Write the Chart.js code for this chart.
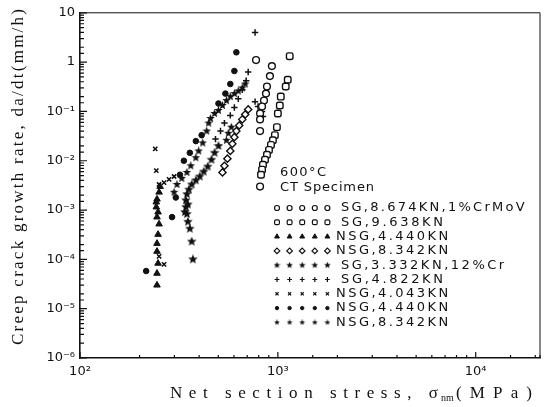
<!DOCTYPE html>
<html>
<head>
<meta charset="utf-8">
<script src="https://cdn.jsdelivr.net/npm/chart.js@4.4.0/dist/chart.umd.min.js"></script>
<style>
  html, body { margin: 0; padding: 0; background: #fff; }
  canvas { display: block; }
</style>
</head>
<body>
<canvas id="CrackChart" width="546" height="407"></canvas>
<script>
// points are [net section stress (MPa), da/dt (mm/h)]
const sg8674CrMoV = [
  [776, 1.10], [933, 0.83], [912, 0.52], [881, 0.32], [871, 0.23], [851, 0.166],
  [832, 0.126], [813, 0.091], [813, 0.069], [813, 0.040], [813, 0.0030],
];
const sg9638CrMoV = [
  [1148, 1.32], [1122, 0.44], [1096, 0.32], [1035, 0.20], [1023, 0.132], [1000, 0.091],
  [989, 0.048], [966, 0.033], [944, 0.026], [923, 0.021], [902, 0.0166], [881, 0.0132],
  [861, 0.0105], [841, 0.0083], [832, 0.0066], [822, 0.0052],
];
const nsg4440CrMoV = [
  [245, 0.00003], [245, 0.000052], [248, 0.000083], [245, 0.000145], [245, 0.00021],
  [248, 0.00032], [251, 0.00052], [245, 0.00072], [248, 0.00091], [243, 0.00115],
  [243, 0.00145], [245, 0.00166], [251, 0.0023], [254, 0.0030],
];
const nsg8342CrMoV = [
  [708, 0.11], [684, 0.087], [661, 0.069], [638, 0.052], [617, 0.040], [603, 0.030],
  [589, 0.022], [575, 0.0158], [556, 0.011], [537, 0.0079], [525, 0.0058],
];
const sg3332Cr12 = [
  [372, 0.0001], [367, 0.00023], [359, 0.00042], [351, 0.00058], [347, 0.00083],
  [339, 0.00091], [343, 0.00115], [351, 0.0013], [343, 0.00158], [347, 0.0021],
  [355, 0.0026], [367, 0.0033], [385, 0.0040], [403, 0.0048], [422, 0.006],
  [442, 0.0076], [462, 0.0105], [479, 0.0145], [501, 0.020],
];
const sg4822Cr12 = [
  [767, 3.98], [708, 0.63], [692, 0.42], [661, 0.275], [631, 0.18], [603, 0.12],
  [575, 0.083], [537, 0.058], [513, 0.040], [484, 0.0275],
  [767, 0.158], [794, 0.126], [832, 0.1], [841, 0.079],
];
const nsg4043Cr12 = [
  [240, 0.0174], [243, 0.0063], [251, 0.0033], [266, 0.0036], [282, 0.0042],
  [299, 0.0048], [266, 0.000079], [251, 0.000115],
];
const nsg4440Cr12 = [
  [216, 0.000058], [292, 0.00072], [305, 0.0018], [320, 0.0052], [335, 0.01],
  [359, 0.0145], [385, 0.025], [412, 0.033], [501, 0.145], [543, 0.23],
  [575, 0.36], [603, 0.66], [617, 1.58],
];
const nsg8342Cr12 = [
  [299, 0.0023], [309, 0.0033], [327, 0.0044], [347, 0.0058], [363, 0.0079],
  [385, 0.0115], [398, 0.0158], [417, 0.023], [437, 0.040], [447, 0.058],
  [457, 0.072], [479, 0.091], [501, 0.105], [525, 0.132], [550, 0.166],
  [575, 0.20], [603, 0.23], [631, 0.26], [661, 0.30], [684, 0.36],
  [562, 0.036], [582, 0.048], [550, 0.026],
];

const seriesData = [
  sg8674CrMoV, sg9638CrMoV, nsg4440CrMoV, nsg8342CrMoV,
  sg3332Cr12, sg4822Cr12, nsg4043Cr12, nsg4440Cr12, nsg8342Cr12,
];
const seriesNames = [
  "SG,8.674KN,1%CrMoV", "SG,9.638KN", "NSG,4.440KN", "NSG,8.342KN",
  "SG,3.332KN,12%Cr", "SG,4.822KN", "NSG,4.043KN", "NSG,4.440KN", "NSG,8.342KN",
];

const xTickValues = [100, 1000, 10000];
const xTickLabels = ["10²", "10³", "10⁴"];
const yTickValues = [1e-6, 1e-5, 1e-4, 1e-3, 1e-2, 1e-1, 1, 10];
const yTickLabels = ["10⁻⁶", "10⁻⁵", "10⁻⁴", "10⁻³", "10⁻²", "10⁻¹", "1", "10"];

const INK = "#111";

function makeStar(size) {
  const c = document.createElement("canvas");
  c.width = size;
  c.height = size;
  const g = c.getContext("2d");
  g.fillStyle = INK;
  g.beginPath();
  for (let i = 0; i < 10; i++) {
    const r = i % 2 ? size * 0.22 : size * 0.5;
    const a = -Math.PI / 2 + (i * Math.PI) / 5;
    g.lineTo(size / 2 + r * Math.cos(a), size / 2 + r * Math.sin(a));
  }
  g.closePath();
  g.fill();
  return c;
}

const markerStyles = [
  { pointStyle: "circle", radius: 3.4, fill: "#fff", stroke: INK, width: 1.4 },
  { pointStyle: "rectRounded", radius: 3.8, fill: "#fff", stroke: INK, width: 1.4 },
  { pointStyle: "triangle", radius: 3.8, fill: INK, stroke: INK, width: 1 },
  { pointStyle: "rectRot", radius: 3.6, fill: "#fff", stroke: INK, width: 1.4 },
  { pointStyle: makeStar(10), radius: 4, fill: INK, stroke: INK, width: 0 },
  { pointStyle: "cross", radius: 3.2, fill: INK, stroke: INK, width: 1.5 },
  { pointStyle: "crossRot", radius: 3, fill: INK, stroke: INK, width: 1.6 },
  { pointStyle: "circle", radius: 2.8, fill: INK, stroke: INK, width: 1 },
  { pointStyle: makeStar(9), radius: 3.5, fill: INK, stroke: INK, width: 0 },
];
const legendMarkers = [
  { pointStyle: "circle", radius: 2.5 },
  { pointStyle: "rectRounded", radius: 2.8 },
  { pointStyle: "triangle", radius: 2.8 },
  { pointStyle: "rectRot", radius: 2.8 },
  { pointStyle: makeStar(7), radius: 3 },
  { pointStyle: "cross", radius: 2.4 },
  { pointStyle: "crossRot", radius: 2.2 },
  { pointStyle: "circle", radius: 1.7 },
  { pointStyle: makeStar(6), radius: 3 },
];

function isPow10(v) {
  const l = Math.log10(v);
  return Math.abs(l - Math.round(l)) < 1e-6;
}

function labelFor(value, values, labels) {
  const i = values.findIndex((v) => Math.abs(Math.log10(v) - Math.log10(value)) < 1e-6);
  return i >= 0 ? labels[i] : "";
}

function spacedText(ctx, text, x, y, width) {
  // stretch the text to the width it has in the scanned figure
  ctx.letterSpacing = "0px";
  const w = ctx.measureText(text).width;
  ctx.letterSpacing = Math.max(0, (width - w) / (text.length - 1)) + "px";
  ctx.fillText(text, x, y);
  ctx.letterSpacing = "0px";
}

const axisDecor = {
  id: "axisDecor",
  afterDraw(chart) {
    const { ctx, chartArea: a, scales } = chart;
    ctx.save();
    ctx.strokeStyle = INK;
    ctx.lineWidth = 1;
    ctx.beginPath();
    ctx.moveTo(a.left, a.top);
    ctx.lineTo(a.right, a.top);
    ctx.lineTo(a.right, a.bottom);
    ctx.stroke();

    ctx.lineWidth = 1.2;
    ctx.beginPath();
    scales.x.ticks.forEach((t) => {
      const p = scales.x.getPixelForValue(t.value);
      const len = isPow10(t.value) ? 6 : 3;
      ctx.moveTo(p, a.bottom);
      ctx.lineTo(p, a.bottom - len);
    });
    scales.y.ticks.forEach((t) => {
      const p = scales.y.getPixelForValue(t.value);
      const len = isPow10(t.value) ? 7 : 4;
      ctx.moveTo(a.left, p);
      ctx.lineTo(a.left + len, p);
    });
    ctx.stroke();

    // axis titles
    ctx.fillStyle = INK;
    ctx.font = '17px "Liberation Serif"';
    ctx.textBaseline = "alphabetic";
    ctx.textAlign = "left";
    spacedText(ctx, "Net section stress, σ", 170, 398, 268);
    ctx.font = '10px "Liberation Serif"';
    ctx.fillText("nm", 441, 401);
    ctx.font = '17px "Liberation Serif"';
    spacedText(ctx, "(MPa)", 456, 398, 76);

    ctx.translate(19, 177);
    ctx.rotate(-Math.PI / 2);
    ctx.textBaseline = "middle";
    spacedText(ctx, "Creep crack growth rate, da/dt(mm/h)", -168, 0, 336);
    ctx.restore();
  },
};

const figureLegend = {
  id: "figureLegend",
  afterDatasetsDraw(chart) {
    const { ctx } = chart;
    const drawPoint = Chart.helpers && Chart.helpers.drawPoint;
    ctx.save();
    ctx.fillStyle = INK;
    ctx.textBaseline = "middle";
    ctx.textAlign = "left";
    ctx.font = '13px "DejaVu Sans"';
    spacedText(ctx, "600°C", 280, 173, 46);
    spacedText(ctx, "CT Specimen", 280, 188, 94);

    const rowTop = 208;
    const rowStep = 14.3;
    seriesNames.forEach((name, i) => {
      const y = rowTop + i * rowStep;
      const st = markerStyles[i];
      const lm = legendMarkers[i];
      if (drawPoint) {
        for (let k = 0; k < 5; k++) {
          ctx.fillStyle = st.fill;
          ctx.strokeStyle = st.stroke;
          ctx.lineWidth = Math.min(st.width, 1.2);
          drawPoint(ctx, { pointStyle: lm.pointStyle, radius: lm.radius, rotation: 0, borderWidth: st.width ? 1.2 : 0 }, 277 + k * 12.6, y);
        }
      }
      ctx.fillStyle = INK;
      ctx.font = '13px "DejaVu Sans"';
      const x = name.startsWith("NSG") ? 336 : 341;
      spacedText(ctx, name, x, y, name.length * 10.2);
    });
    ctx.restore();
  },
};

const datasets = seriesData.map((points, i) => {
  const st = markerStyles[i];
  const open = st.fill === "#fff";
  return {
    label: seriesNames[i],
    data: points.map(([x, y]) => ({ x, y })),
    pointStyle: st.pointStyle,
    pointRadius: st.radius,
    pointBackgroundColor: st.fill,
    pointBorderColor: st.stroke,
    pointBorderWidth: st.width,
    order: open ? 0 : 1,
  };
});

new Chart(document.getElementById("CrackChart"), {
  type: "scatter",
  data: { datasets },
  options: {
    responsive: false,
    animation: false,
    layout: { padding: { top: 8, right: 1, left: 0, bottom: 0 } },
    plugins: {
      legend: { display: false },
      tooltip: { enabled: false },
    },
    scales: {
      x: {
        type: "logarithmic",
        min: 100,
        max: 21135,
        grid: { display: false, drawTicks: false },
        border: { display: true, color: INK, width: 1.6 },
        ticks: {
          autoSkip: false,
          maxRotation: 0,
          padding: 6,
          color: INK,
          font: { family: "DejaVu Sans", size: 13 },
          callback: (v) => labelFor(v, xTickValues, xTickLabels),
        },
        afterFit(scale) {
          scale.height = 49;
        },
      },
      y: {
        type: "logarithmic",
        min: 1e-6,
        max: 10,
        grid: { display: false, drawTicks: false },
        border: { display: true, color: INK, width: 1.6 },
        ticks: {
          autoSkip: false,
          padding: 5,
          color: INK,
          font: { family: "DejaVu Sans", size: 13 },
          callback: (v) => labelFor(v, yTickValues, yTickLabels),
        },
        afterFit(scale) {
          scale.width = 80;
        },
      },
    },
  },
  plugins: [axisDecor, figureLegend],
});
</script>
</body>
</html>
